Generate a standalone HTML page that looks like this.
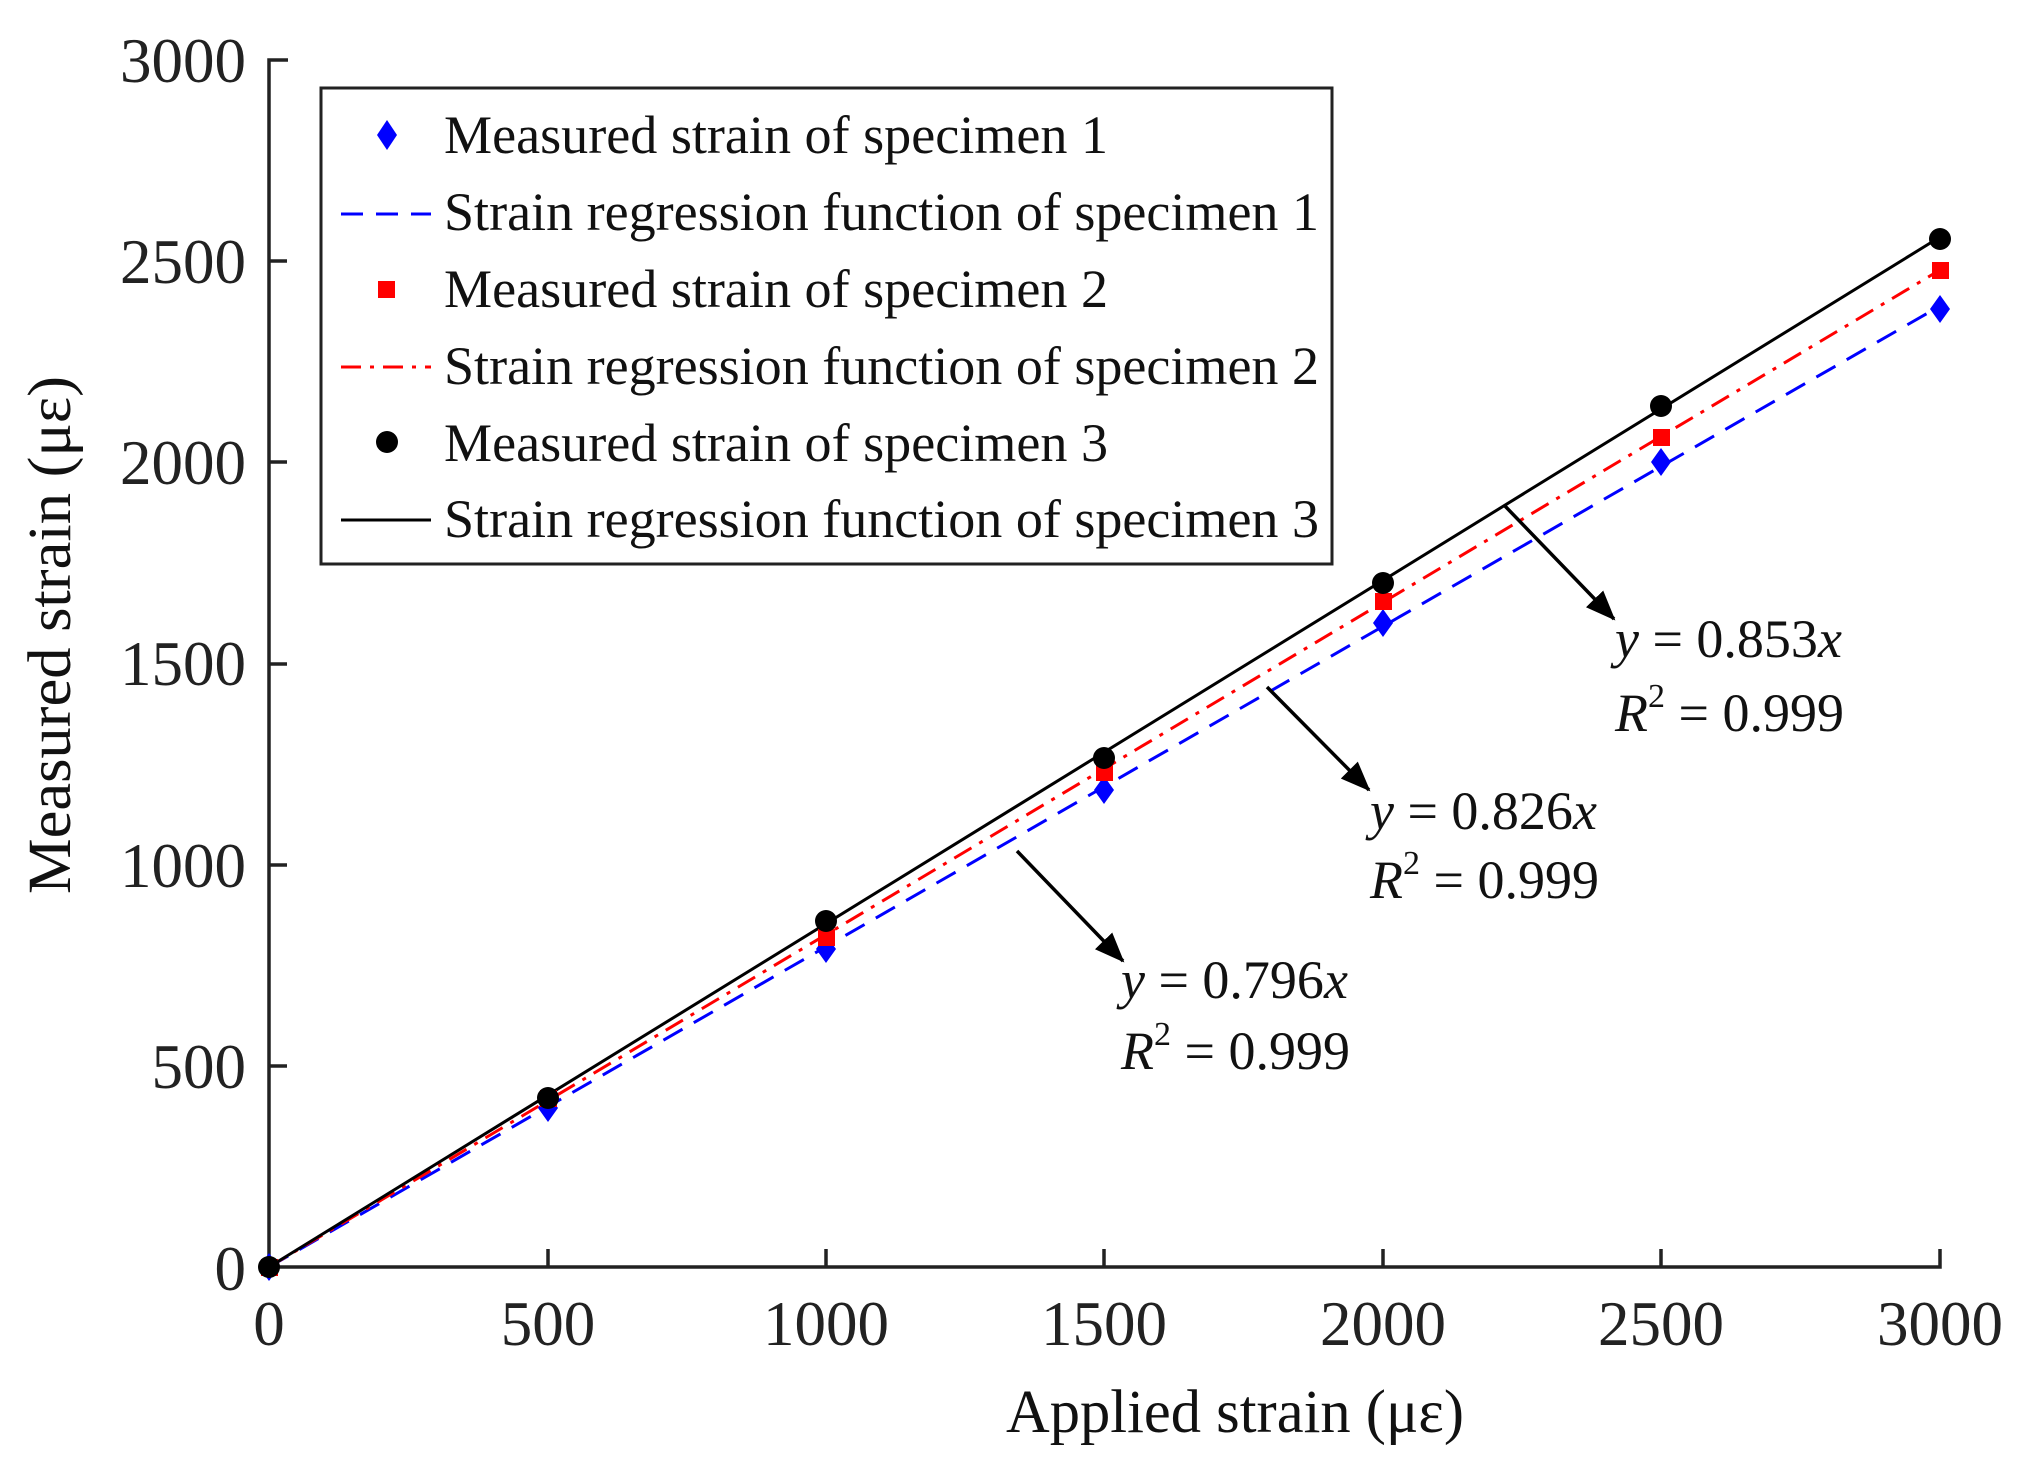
<!DOCTYPE html>
<html><head><meta charset="utf-8"><style>html,body{margin:0;padding:0;background:#fff}svg{display:block}</style></head><body>
<svg width="2022" height="1459" viewBox="0 0 2022 1459" xmlns="http://www.w3.org/2000/svg" font-family="'Liberation Serif', serif">
<defs><marker id="ah" markerWidth="30" markerHeight="24" refX="28" refY="12" orient="auto" markerUnits="userSpaceOnUse" viewBox="0 0 30 24"><path d="M0,0 L30,12 L0,24 z" fill="#000"/></marker></defs>
<g fill="#222" font-size="63">
<text x="246" y="82" text-anchor="end">3000</text>
<text x="246" y="283" text-anchor="end">2500</text>
<text x="246" y="484" text-anchor="end">2000</text>
<text x="246" y="685" text-anchor="end">1500</text>
<text x="246" y="887" text-anchor="end">1000</text>
<text x="246" y="1088" text-anchor="end">500</text>
<text x="246" y="1290" text-anchor="end">0</text>
<text x="269" y="1345" text-anchor="middle">0</text>
<text x="548" y="1345" text-anchor="middle">500</text>
<text x="826" y="1345" text-anchor="middle">1000</text>
<text x="1104" y="1345" text-anchor="middle">1500</text>
<text x="1383" y="1345" text-anchor="middle">2000</text>
<text x="1661" y="1345" text-anchor="middle">2500</text>
<text x="1940" y="1345" text-anchor="middle">3000</text>
<text x="1006" y="1432" font-size="61" fill="#111" textLength="458" lengthAdjust="spacingAndGlyphs">Applied strain (με)</text>
<text transform="translate(70,635) rotate(-90)" text-anchor="middle" font-size="61" fill="#111" textLength="518" lengthAdjust="spacingAndGlyphs">Measured strain (με)</text>
</g>
<g stroke="#222" stroke-width="3.5" fill="none">
<path d="M288,60 H269 V1267 H1940 V1249"/>
<path d="M269,1066 H287 M269,865 H287 M269,664 H287 M269,462 H287 M269,261 H287"/>
<path d="M548,1267 V1249 M826,1267 V1249 M1104,1267 V1249 M1383,1267 V1249 M1661,1267 V1249"/>
</g>
<line x1="269" y1="1267" x2="1940" y2="306" stroke="#00f" stroke-width="3" stroke-dasharray="22,13"/>
<line x1="269" y1="1267" x2="1940" y2="270" stroke="#f00" stroke-width="3" stroke-dasharray="20,9,4,9"/>
<line x1="269" y1="1267" x2="1940" y2="237" stroke="#000" stroke-width="3"/>
<g fill="#00f">
<path d="M269,1253 l10,14 l-10,14 l-10,-14z"/>
<path d="M548,1094 l10,14 l-10,14 l-10,-14z"/>
<path d="M826,935 l10,14 l-10,14 l-10,-14z"/>
<path d="M1104,776 l10,14 l-10,14 l-10,-14z"/>
<path d="M1383,609 l10,14 l-10,14 l-10,-14z"/>
<path d="M1661,448 l10,14 l-10,14 l-10,-14z"/>
<path d="M1940,295 l10,14 l-10,14 l-10,-14z"/>
</g>
<g fill="#f00">
<rect x="261" y="1259" width="17" height="17"/>
<rect x="540" y="1090" width="17" height="17"/>
<rect x="818" y="929" width="17" height="17"/>
<rect x="1096" y="764" width="17" height="17"/>
<rect x="1375" y="593" width="17" height="17"/>
<rect x="1653" y="429" width="17" height="17"/>
<rect x="1932" y="262" width="17" height="17"/>
</g>
<g fill="#000">
<circle cx="269" cy="1267" r="11"/>
<circle cx="548" cy="1098" r="11"/>
<circle cx="826" cy="921" r="11"/>
<circle cx="1104" cy="758" r="11"/>
<circle cx="1383" cy="583" r="11"/>
<circle cx="1661" cy="406" r="11"/>
<circle cx="1940" cy="239" r="11"/>
</g>
<rect x="321" y="88" width="1011" height="476" fill="#fff" stroke="#222" stroke-width="3"/>
<g font-size="54" fill="#111" lengthAdjust="spacingAndGlyphs">
<path d="M387,120 l10,15 l-10,15 l-10,-15z" fill="#00f"/>
<text x="444" y="153" textLength="664" lengthAdjust="spacingAndGlyphs">Measured strain of specimen 1</text>
<line x1="341" y1="214" x2="431" y2="214" stroke="#00f" stroke-width="3" stroke-dasharray="22,13"/>
<text x="444" y="230" textLength="875" lengthAdjust="spacingAndGlyphs">Strain regression function of specimen 1</text>
<rect x="378" y="281" width="17" height="17" fill="#f00"/>
<text x="444" y="307" textLength="664" lengthAdjust="spacingAndGlyphs">Measured strain of specimen 2</text>
<line x1="341" y1="367" x2="431" y2="367" stroke="#f00" stroke-width="3" stroke-dasharray="20,9,4,9"/>
<text x="444" y="384" textLength="875" lengthAdjust="spacingAndGlyphs">Strain regression function of specimen 2</text>
<circle cx="387" cy="442" r="11" fill="#000"/>
<text x="444" y="461" textLength="664" lengthAdjust="spacingAndGlyphs">Measured strain of specimen 3</text>
<line x1="341" y1="520" x2="431" y2="520" stroke="#000" stroke-width="3"/>
<text x="444" y="537" textLength="875" lengthAdjust="spacingAndGlyphs">Strain regression function of specimen 3</text>
</g>
<g stroke="#000" stroke-width="3.5">
<line x1="1504" y1="505" x2="1614" y2="619" marker-end="url(#ah)"/>
<line x1="1267" y1="687" x2="1369" y2="790" marker-end="url(#ah)"/>
<line x1="1017" y1="851" x2="1123" y2="961" marker-end="url(#ah)"/>
</g>
<g font-size="54" fill="#111">
<text x="1615" y="657"><tspan font-style="italic">y</tspan> = 0.853<tspan font-style="italic">x</tspan></text>
<text x="1615" y="731"><tspan font-style="italic">R</tspan><tspan font-size="34" dy="-24">2</tspan><tspan dy="24"> = 0.999</tspan></text>
<text x="1370" y="829"><tspan font-style="italic">y</tspan> = 0.826<tspan font-style="italic">x</tspan></text>
<text x="1370" y="898"><tspan font-style="italic">R</tspan><tspan font-size="34" dy="-24">2</tspan><tspan dy="24"> = 0.999</tspan></text>
<text x="1121" y="998"><tspan font-style="italic">y</tspan> = 0.796<tspan font-style="italic">x</tspan></text>
<text x="1121" y="1069"><tspan font-style="italic">R</tspan><tspan font-size="34" dy="-24">2</tspan><tspan dy="24"> = 0.999</tspan></text>
</g>
</svg>
</body></html>
